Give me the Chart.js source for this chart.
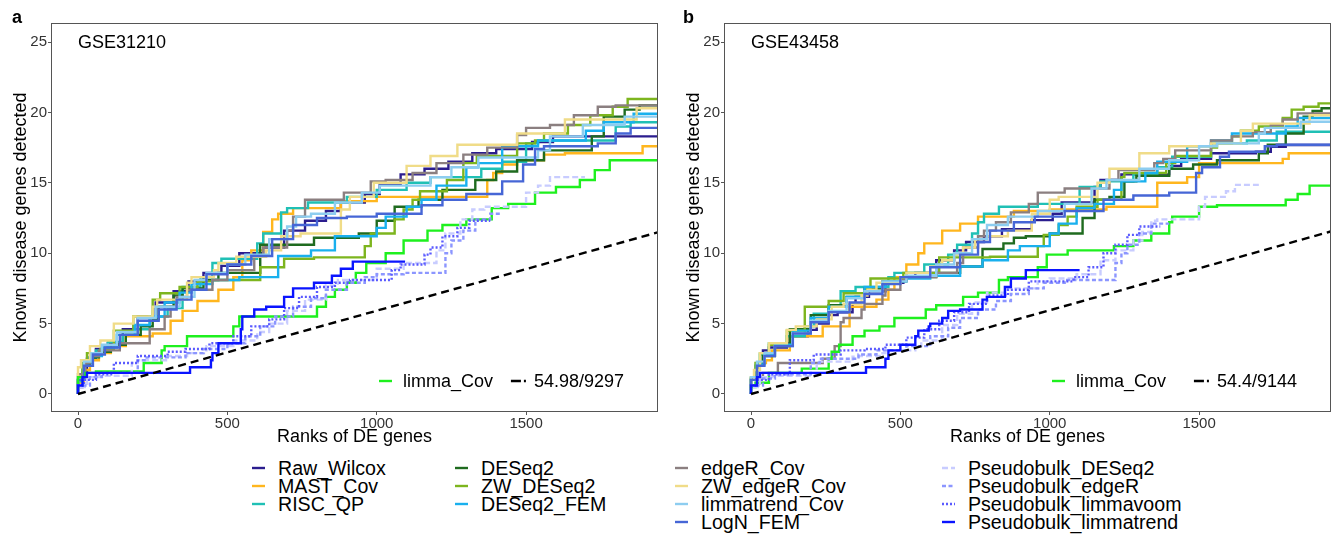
<!DOCTYPE html>
<html>
<head>
<meta charset="utf-8">
<script src="https://cdn.jsdelivr.net/npm/chart.js@4.4.1/dist/chart.umd.min.js"></script>
<style>
  body { margin:0; background:#fff; width:1335px; height:534px; position:relative; overflow:hidden;
         font-family:"Liberation Sans", Arial, sans-serif; }
  canvas { position:absolute; top:0; }
  #panelA { left:0; }
  #panelB { left:673px; }
  #legende { position:absolute; top:459px; left:0; font-size:19.6px; color:#000; }
  .col { position:absolute; top:0; }
  .item { height:18px; line-height:18px; white-space:nowrap; display:flex; align-items:center; }
  .item svg { flex:none; margin-right:13px; }
</style>
</head>
<body>
<canvas id="panelA" width="673" height="450"></canvas>
<canvas id="panelB" width="662" height="450"></canvas>
<div id="legende"></div>

<script>
//---------------------------------- données

const xTicks = [0, 500, 1000, 1500]
const yTicks = [0, 5, 10, 15, 20, 25]

const methods = ['Raw_Wilcox', 'MAST_Cov', 'RISC_QP', 'DESeq2', 'ZW_DESeq2', 'DESeq2_FEM',
  'edgeR_Cov', 'ZW_edgeR_Cov', 'limmatrend_Cov', 'LogN_FEM', 'limma_Cov',
  'Pseudobulk_DESeq2', 'Pseudobulk_edgeR', 'Pseudobulk_limmavoom', 'Pseudobulk_limmatrend']

// panneau a : GSE31210  (rang, nombre de gènes détectés)
const rawWilcoxA = [[0,0],[15,0.5],[30,1.5],[60,2.5],[100,3.2],[150,3.6],[200,4.6],[260,5.5],[320,6.5],[370,7.3],[420,8],[480,8.6],[540,9.1],[620,10],[690,10.4],[760,11.6],[830,12.3],[880,13],[960,13.6],[1010,14.2],[1080,14.9],[1160,15.6],[1240,16],[1320,16.5],[1400,17.1],[1520,17.4],[1590,17.9],[1660,18.3],[1940,18.3]]
const mastCovA = [[0,0],[20,0.8],[40,1.7],[70,2.4],[110,2.9],[160,3.4],[250,4.1],[310,4.3],[350,5.2],[400,5.9],[470,6.6],[520,7.4],[550,8.3],[580,9.5],[620,10.2],[650,11.5],[670,12.4],[720,12.8],[880,13.2],[1000,13.7],[1090,14],[1370,14],[1390,15.2],[1420,15.7],[1470,16.3],[1560,16.6],[1630,17],[1890,17.1],[1910,17.6],[1940,17.6]]
const riscQpA = [[0,0],[15,0.9],[35,2],[60,2.6],[100,3.1],[150,3.7],[200,4.2],[240,4.6],[300,5.5],[350,6.1],[410,7.6],[450,8.3],[480,9.3],[600,9.6],[620,10.7],[680,11.4],[700,12.9],[770,13.2],[900,13.6],[1000,14],[1100,14.5],[1180,15],[1350,15.4],[1420,16],[1500,16.5],[1540,17.8],[1800,18],[1850,19],[1900,19.3],[1940,19.3]]
const deseq2A = [[0,0],[20,1],[40,2],[70,2.6],[110,3],[160,3.5],[210,4.2],[250,4.8],[270,5.3],[320,6.2],[350,7],[420,7.5],[470,8.1],[610,8.6],[790,10.6],[940,11.1],[1000,11.4],[1060,12.3],[1140,13.3],[1220,13.8],[1330,14.5],[1400,15.2],[1470,15.8],[1560,16.6],[1720,17.3],[1760,18.3],[1830,19.7],[1880,20.2],[1920,20.5],[1940,20.5]]
const zwDeseq2A = [[0,0],[15,1],[30,2.2],[75,2.9],[120,3.2],[185,4.5],[250,5.5],[275,6.7],[340,7.15],[400,7.6],[450,8],[610,8.1],[690,9],[790,9.6],[960,9.7],[980,10.5],[1060,11.4],[1090,12.4],[1120,13.1],[1145,13.8],[1235,14.4],[1290,15.2],[1335,16.4],[1470,16.9],[1530,17.8],[1560,18],[1640,18.5],[1715,19.1],[1790,19.8],[1840,20.4],[1880,20.95],[1940,20.95]]
const deseq2FemA = [[0,0],[20,1],[45,2.2],[80,2.7],[130,3.3],[190,4.2],[240,4.9],[290,5.5],[340,6.5],[380,7.2],[450,7.8],[540,8.1],[670,8.3],[780,9.8],[860,10.2],[1000,11.2],[1030,11.8],[1100,12.6],[1150,13.3],[1200,13.8],[1300,14.8],[1340,16.1],[1420,16.4],[1540,17.6],[1700,18],[1760,18.7],[1860,19.3],[1890,19.9],[1940,19.9]]
const edgeRCovA = [[0,0],[25,1.4],[40,2.2],[70,2.7],[140,3.1],[240,3.6],[290,4.6],[310,5.5],[330,6.2],[365,6.9],[450,7.4],[500,8.1],[590,8.8],[620,9.75],[700,10.4],[720,11.6],[760,12.6],[890,13.8],[980,14.3],[1030,15.1],[1120,15.2],[1200,15.7],[1290,16.4],[1370,17],[1470,17.5],[1500,18.4],[1580,18.9],[1660,19.1],[1740,19.8],[1800,20.4],[1940,20.5]]
const zwEdgeRCovA = [[0,0],[10,1.9],[40,2.4],[75,3.4],[120,3.8],[185,5],[250,5.5],[265,6.2],[365,6.7],[380,7.9],[455,8.3],[470,8.8],[530,9.3],[630,9.75],[680,10.2],[745,11.2],[880,11.4],[910,13.1],[990,14],[1100,15],[1180,16.2],[1270,16.9],[1470,17.7],[1630,18.5],[1870,19.5],[1890,20.3],[1940,20.3]]
const limmatrendCovA = [[0,0],[20,1.2],[45,2.3],[80,2.9],[130,3.5],[200,4.4],[260,5.4],[340,6.2],[390,6.9],[430,8.1],[500,8.6],[560,9.2],[640,9.9],[700,11],[730,11.9],[780,12.6],[860,12.8],[950,13.6],[1010,14.3],[1180,14.8],[1250,15.4],[1340,16.1],[1540,16.8],[1580,17.3],[1690,18.3],[1830,19.1],[1880,19.7],[1940,19.7]]
const logNFemA = [[0,0],[20,1],[50,2],[90,2.8],[140,3.3],[200,4.2],[270,5.2],[330,6],[380,6.7],[430,7.4],[500,8.5],[580,9.2],[650,9.8],[720,11],[800,12],[900,12.5],[1000,12.6],[1150,12.8],[1220,13.4],[1300,13.8],[1420,14.2],[1490,15.1],[1530,16.3],[1560,17.4],[1740,17.6],[1800,17.8],[1850,18.5],[1900,18.9],[1940,18.9]]
const limmaCovA = [[0,0],[25,1.2],[60,1.5],[220,1.6],[230,2.2],[280,2.2],[290,3.1],[365,3.4],[380,4.1],[520,4.1],[540,4.8],[565,5.5],[800,5.5],[830,6.2],[860,6.9],[900,7.4],[930,7.9],[965,8.6],[1030,9.3],[1090,10],[1170,10.9],[1220,11.6],[1300,12],[1385,12.4],[1440,13.2],[1530,13.5],[1600,14.3],[1680,14.7],[1730,15.2],[1780,15.9],[1880,16.6],[1940,16.6]]
const pbDeseq2A = [[0,0],[30,0.5],[70,1.2],[180,1.3],[200,2.2],[300,2.4],[365,2.7],[430,2.9],[520,3.4],[600,3.8],[640,4.4],[700,5],[760,5.9],[830,6.7],[870,7.7],[1000,8.1],[1090,8.9],[1200,9.3],[1230,10.2],[1280,11.4],[1320,12.4],[1360,13.1],[1500,13.3],[1540,14.3],[1580,14.8],[1620,15.4],[1697,15.4]]
const pbEdgeRA = [[0,0],[40,0.6],[80,1.2],[200,1.5],[230,2.4],[360,2.6],[420,2.9],[500,3.2],[560,3.6],[610,4.1],[660,4.8],[720,5.5],[780,6.2],[830,6.8],[900,7.4],[960,7.9],[1000,8.3],[1090,8.5],[1230,8.6],[1250,10],[1290,10.9],[1330,11.6],[1380,12.4],[1420,12.8]]
const pbLimmavoomA = [[0,0],[20,0.6],[60,1],[120,1.4],[200,2.2],[300,2.7],[360,3],[440,3.2],[520,3.6],[580,4.1],[640,4.8],[690,5.3],[740,6.1],[800,6.9],[860,7.6],[910,7.9],[1050,8.1],[1080,8.8],[1160,9.2],[1180,9.9],[1220,10.4],[1270,11.2],[1310,11.8],[1350,12.3],[1380,12.3]]
const pbLimmatrendA = [[0,0],[15,0.6],[30,1.2],[60,1.5],[375,1.5],[380,1.9],[445,1.9],[450,2.4],[470,2.9],[480,3.6],[545,3.6],[550,4.6],[590,5.5],[630,6],[690,6.2],[720,6.9],[790,7.5],[850,7.9],[880,8.4],[920,8.9],[960,9.4],[1095,9.4]]

// panneau b : GSE43458
const rawWilcoxB = [[0,0],[20,1],[40,2.2],[60,3.1],[120,3.3],[130,3.6],[190,4.1],[220,4.55],[260,5],[290,5.6],[340,5.8],[350,6.4],[395,6.9],[450,7.3],[510,7.9],[550,8.3],[620,8.6],[680,9.5],[720,10.2],[780,10.8],[840,11.2],[940,11.7],[1010,12.35],[1040,12.8],[1150,13.6],[1170,14.7],[1240,15.2],[1400,15.6],[1440,16.2],[1540,16.7],[1690,17.1],[1740,17.2],[1790,17.56],[1840,17.68],[1940,17.68]]
const mastCovB = [[0,0],[15,1],[25,1.7],[50,2.2],[70,2.4],[130,3.1],[240,4.1],[330,4.8],[420,6.2],[460,6.7],[480,7.4],[520,8.3],[560,9.2],[580,10],[640,10.7],[700,11.6],[760,12.1],[880,12.6],[1000,13],[1190,13.1],[1360,13.3],[1460,15],[1500,15.4],[1560,16.4],[1780,16.4],[1800,16.7],[1860,17.1],[1940,17.1]]
const riscQpB = [[0,0],[15,1],[30,2],[60,2.8],[120,3.6],[180,4.1],[210,4.8],[260,5.7],[300,6.2],[350,7.3],[460,7.6],[480,8.3],[580,8.6],[660,9.2],[690,9.9],[740,10.6],[760,11.4],[780,12.2],[830,12.8],[960,13.3],[1100,13.5],[1170,14.7],[1280,15.1],[1360,15.6],[1410,16.1],[1540,16.85],[1660,17.8],[1760,18],[1780,18.63],[1940,18.63]]
const deseq2B = [[0,0],[20,1.1],[40,2],[80,2.7],[130,3.4],[200,4.6],[260,5.6],[320,6.3],[380,6.9],[440,7.5],[520,8],[620,8.3],[700,8.6],[775,9.05],[845,10.3],[880,10.7],[920,11.1],[1000,11.2],[1110,11.4],[1150,12.5],[1200,13.8],[1250,14],[1290,15.1],[1400,15.5],[1480,16],[1560,16.3],[1700,16.6],[1730,17.1],[1790,17.7],[1850,18.5],[1880,19.7],[1910,20.1],[1930,20.3],[1940,20.3]]
const zwDeseq2B = [[0,0],[15,1.2],[30,2.2],[60,2.9],[120,3.5],[180,4.5],[260,6.2],[310,6.6],[385,7.15],[400,7.5],[510,8.2],[630,8.6],[800,9.7],[960,9.75],[980,10.5],[1030,11.3],[1060,12],[1090,12.6],[1160,13.3],[1240,13.8],[1250,15.4],[1390,15.7],[1420,16.4],[1540,16.9],[1560,17.5],[1610,17.8],[1640,18.3],[1700,18.7],[1780,19],[1810,19.6],[1850,20.2],[1900,20.4],[1920,20.64],[1940,20.64]]
const deseq2FemB = [[0,0],[20,1],[45,2.1],[80,2.8],[140,3.5],[200,4.5],[260,5.4],[320,6.2],[380,6.9],[450,7.6],[520,8],[600,8.2],[700,8.4],[775,9.05],[860,9.5],[900,10.2],[1000,10.5],[1030,11.4],[1090,12.1],[1150,13.2],[1215,13.5],[1240,14.5],[1320,15.1],[1360,15.7],[1460,16.5],[1540,17.6],[1610,18],[1790,18.5],[1830,19],[1880,19.6],[1940,19.6]]
const edgeRCovB = [[0,0],[20,0.6],[40,1.2],[90,1.5],[100,2.2],[240,2.2],[280,2.5],[300,3.4],[310,5.1],[370,5.4],[380,6],[440,6.4],[450,7],[500,7.4],[520,8.1],[620,8.3],[690,8.6],[710,9.3],[760,10.4],[780,11.2],[820,11.6],[870,12.2],[930,12.9],[960,13.5],[1050,14.3],[1200,14.6],[1230,15.2],[1350,15.9],[1380,16.4],[1420,16.7],[1540,17.3],[1610,18],[1680,18.3],[1740,18.6],[1780,19.1],[1830,19.5],[1900,19.93],[1940,19.93]]
const zwEdgeRCovB = [[0,0],[10,1],[30,1.7],[60,2.9],[120,3.6],[150,4.55],[220,4.8],[270,5.3],[310,6.2],[370,6.4],[390,7],[420,7.4],[500,7.9],[520,8.3],[600,8.6],[640,9.05],[680,9.5],[710,9.9],[750,10.4],[790,11],[860,11.2],[940,11.6],[1000,12.8],[1030,13.8],[1160,14],[1200,15],[1300,16],[1400,17.1],[1540,17.6],[1640,17.8],[1680,18.7],[1870,19.2],[1890,19.8],[1940,19.8]]
const limmatrendCovB = [[0,0],[20,1.2],[45,2.3],[80,2.9],[140,3.4],[200,4.3],[260,5.2],[320,5.9],[380,6.8],[440,7.3],[520,8],[620,8.4],[680,9.2],[740,10],[790,11],[860,12],[960,12.6],[1050,13],[1140,13.5],[1190,14.6],[1300,15.2],[1400,16],[1500,16.6],[1560,17.6],[1700,17.8],[1720,18.5],[1840,18.9],[1880,19.34],[1940,19.34]]
const logNFemB = [[0,0],[20,1],[45,2],[80,2.7],[140,3.4],[200,4.3],[260,5.1],[330,5.8],[380,6.5],[440,7.1],[500,7.8],[600,8.3],[700,9],[760,9.9],[800,10.8],[880,11.6],[950,12.2],[1050,12.6],[1180,13],[1280,13.8],[1400,14.1],[1490,14.3],[1510,15.7],[1570,16.1],[1600,16.85],[1720,17.2],[1760,17.6],[1840,17.7],[1940,17.7]]
const limmaCovB = [[0,0],[15,0.5],[60,0.8],[65,1.5],[170,1.5],[175,1.8],[260,1.8],[270,2.5],[295,3],[340,3.5],[380,4.1],[430,4.5],[480,4.8],[585,5.4],[620,6],[710,6.3],[760,6.9],[830,7.2],[860,8.1],[960,8.3],[990,9],[1060,9.9],[1215,10.2],[1280,10.5],[1340,10.9],[1400,11.4],[1410,12.2],[1500,12.6],[1560,13.3],[1790,13.4],[1830,13.8],[1870,14.2],[1900,14.8],[1940,14.8]]
const pbDeseq2B = [[0,0],[30,0.5],[70,1.2],[220,1.3],[230,2.2],[340,2.3],[350,2.65],[440,2.7],[450,2.9],[550,3.1],[570,3.4],[640,3.8],[690,4.9],[740,5.7],[790,6.5],[860,7.2],[960,7.5],[1000,8],[1090,8.2],[1170,8.5],[1220,9.5],[1280,10.2],[1310,10.9],[1340,11.5],[1360,12.3],[1500,12.4],[1520,13.3],[1590,14],[1620,14.4],[1660,14.85],[1700,14.85]]
const pbEdgeRB = [[0,0],[40,0.6],[80,1.1],[200,1.4],[230,2.2],[360,2.5],[420,2.8],[520,3.1],[600,3.4],[660,4.1],[700,4.7],[760,5.4],[820,6],[870,6.6],[930,7.1],[980,7.5],[1050,7.9],[1220,8.1],[1240,9.3],[1260,10],[1300,10.6],[1340,11.4],[1380,12.1],[1400,12.1]]
const pbLimmavoomB = [[0,0],[20,0.6],[60,1],[130,1.4],[210,2.4],[300,2.8],[380,3.1],[450,3.2],[520,3.5],[580,4],[630,4.6],[680,5.2],[730,5.8],[790,6.4],[860,7],[930,7.4],[1080,8],[1130,8.3],[1180,9],[1220,10],[1260,10.6],[1300,11.3],[1340,11.9],[1370,11.9]]
const pbLimmatrendB = [[0,0],[20,0.6],[30,1.2],[60,1.5],[385,1.5],[390,1.9],[450,1.9],[460,2.5],[500,3.1],[550,3.5],[560,4.1],[595,4.5],[600,4.8],[640,5],[660,5.4],[700,5.9],[775,6],[790,6.7],[850,6.9],[870,7.6],[920,8.2],[970,8.8],[1100,8.8]]

// attendu au hasard : gènes connus / gènes testés
const expectedA = [54.98, 9297]
const expectedB = [54.4, 9144]

const seriesA = [rawWilcoxA, mastCovA, riscQpA, deseq2A, zwDeseq2A, deseq2FemA, edgeRCovA, zwEdgeRCovA,
  limmatrendCovA, logNFemA, limmaCovA, pbDeseq2A, pbEdgeRA, pbLimmavoomA, pbLimmatrendA]
const seriesB = [rawWilcoxB, mastCovB, riscQpB, deseq2B, zwDeseq2B, deseq2FemB, edgeRCovB, zwEdgeRCovB,
  limmatrendCovB, logNFemB, limmaCovB, pbDeseq2B, pbEdgeRB, pbLimmavoomB, pbLimmatrendB]

//---------------------------------- styles

const colors = ['#2B1D8E', '#FFB61E', '#20C0B5', '#1F6B1F', '#7DB51E', '#19B0EE',
  '#8B7F80', '#F0DC88', '#8DCDF0', '#4666D6', '#1EF01E',
  '#C8CCFF', '#8C96FF', '#5A5AFF', '#0A14FF']
const dashes = [[], [], [], [], [], [], [], [], [], [], [], [6, 3], [4, 2.5], [2, 2], []]

// colonnes de la légende du bas (indices dans methods)
const legendCols = [[0, 1, 2], [3, 4, 5], [6, 7, 8, 9], [11, 12, 13, 14]]
const colLeft = [252, 455, 675, 942]

const FONT = '"Liberation Sans", Arial, sans-serif'
Chart.defaults.font.family = FONT

//---------------------------------- plugin : cadre, lettre, titre, légende interne

const decor = {
  id: 'decor',
  afterDraw(chart, args, opts) {
    const {ctx, chartArea: ca, scales: {x, y}} = chart
    ctx.save()

    // cadre du panneau
    ctx.strokeStyle = '#555'
    ctx.lineWidth = 1
    ctx.strokeRect(ca.left + 0.5, ca.top + 0.5, ca.right - ca.left - 1, ca.bottom - ca.top - 1)

    // lettre du panneau
    ctx.fillStyle = '#000'
    ctx.textBaseline = 'alphabetic'
    ctx.font = 'bold 18px ' + FONT
    ctx.fillText(opts.tag, opts.tagX, 23)

    // nom du jeu de données
    ctx.font = '18px ' + FONT
    ctx.fillText(opts.title, x.getPixelForValue(0), y.getPixelForValue(25) + 6)

    // légende interne : limma_Cov + droite attendue
    const ly = ca.bottom - 31
    const base = ca.bottom - 25
    ctx.lineWidth = 2.4
    ctx.strokeStyle = colors[10]
    ctx.beginPath()
    ctx.moveTo(ca.left + 328, ly)
    ctx.lineTo(ca.left + 341, ly)
    ctx.stroke()
    ctx.fillText(methods[10], ca.left + 352, base)

    const label = opts.expected[0] + '/' + opts.expected[1]
    const tx = ca.left + 573 - ctx.measureText(label).width
    ctx.strokeStyle = '#000'
    ctx.setLineDash([10, 3, 2, 20])
    ctx.beginPath()
    ctx.moveTo(tx - 23, ly)
    ctx.lineTo(tx - 8, ly)
    ctx.stroke()
    ctx.setLineDash([])
    ctx.fillText(label, tx, base)

    ctx.restore()
  }
}

//---------------------------------- construction d'un panneau

function makePanel(canvasId, series, expected, tag, tagX, title, padRight) {
  const datasets = series.map((pts, i) => ({
    label: methods[i],
    data: pts.map(p => ({x: p[0], y: p[1]})),
    borderColor: colors[i],
    borderDash: dashes[i],
    borderWidth: 2.4,
    stepped: 'after',
    pointRadius: 0,
    fill: false,
    order: series.length - i
  }))

  // droite attendue, pente = gènes connus / gènes testés
  const xEnd = 1940
  datasets.push({
    label: expected[0] + '/' + expected[1],
    data: [{x: 0, y: 0}, {x: xEnd, y: xEnd * expected[0] / expected[1]}],
    borderColor: '#000',
    borderDash: [8, 5],
    borderWidth: 2.4,
    pointRadius: 0,
    fill: false,
    order: -1
  })

  const tickFont = {size: 15, family: FONT}
  const titleFont = {size: 18, family: FONT}

  return new Chart(document.getElementById(canvasId), {
    type: 'line',
    data: {datasets},
    options: {
      responsive: false,
      animation: false,
      layout: {padding: {left: 0, top: 23, right: padRight, bottom: 0}},
      plugins: {
        legend: {display: false},
        tooltip: {enabled: false},
        decor: {tag, tagX, title, expected}
      },
      scales: {
        x: {
          type: 'linear', min: -90.4, max: 1941.6,
          afterBuildTicks: s => { s.ticks = xTicks.map(v => ({value: v})) },
          afterFit: s => { s.height = 38; s.paddingLeft = 0; s.paddingRight = 0 },
          ticks: {font: tickFont, color: '#333', padding: 0, maxRotation: 0, callback: v => String(v)},
          grid: {drawOnChartArea: false, drawTicks: true, tickLength: 3, color: '#555'},
          border: {display: false},
          title: {display: true, text: 'Ranks of DE genes', color: '#000', font: titleFont, padding: {top: 0, bottom: 2.5}}
        },
        y: {
          type: 'linear', min: -1.28, max: 26.35,
          afterBuildTicks: s => { s.ticks = yTicks.map(v => ({value: v})) },
          afterFit: s => { s.width = 51; s.paddingTop = 0; s.paddingBottom = 0 },
          ticks: {font: tickFont, color: '#333', padding: 1, callback: v => String(v)},
          grid: {drawOnChartArea: false, drawTicks: true, tickLength: 3, color: '#555'},
          border: {display: false},
          title: {display: true, text: 'Known disease genes detected', color: '#000', font: titleFont, padding: {top: 10, bottom: 0}}
        }
      }
    },
    plugins: [decor]
  })
}

makePanel('panelA', seriesA, expectedA, 'a', 12, 'GSE31210', 15)
makePanel('panelB', seriesB, expectedB, 'b', 10, 'GSE43458', 4)

//---------------------------------- légende du bas, en colonnes

const legende = document.getElementById('legende')
legendCols.forEach((col, c) => {
  const div = document.createElement('div')
  div.className = 'col'
  div.style.left = colLeft[c] + 'px'
  col.forEach(i => {
    const item = document.createElement('div')
    item.className = 'item'
    item.innerHTML = '<svg width="13" height="18"><line x1="0" y1="9" x2="13" y2="9" stroke="' + colors[i] +
      '" stroke-width="2.4" stroke-dasharray="' + (dashes[i].length ? dashes[i].join(' ') : 'none') + '"/></svg>' +
      '<span>' + methods[i] + '</span>'
    div.appendChild(item)
  })
  legende.appendChild(div)
})
</script>
</body>
</html>
